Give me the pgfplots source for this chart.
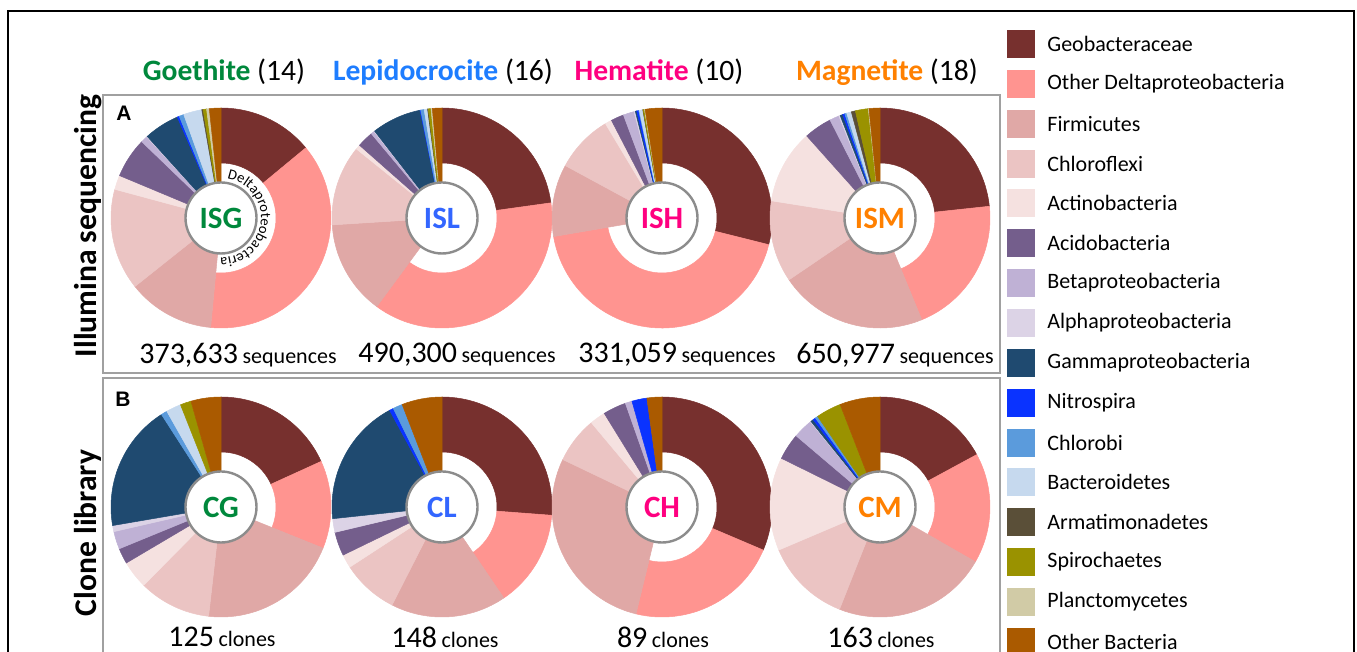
\documentclass[border=0pt]{standalone}
\usepackage{pgfplots}
\pgfplotsset{compat=1.18}
\usepackage{pgfplotstable}
\usepackage{fontspec}
\setmainfont{Carlito}
\newfontfamily\arialfont{Liberation Sans}
\usetikzlibrary{decorations.text}

\definecolor{tc0}{RGB}{119,48,46}
\definecolor{tc1}{RGB}{255,148,144}
\definecolor{tc2}{RGB}{224,168,166}
\definecolor{tc3}{RGB}{235,196,195}
\definecolor{tc4}{RGB}{245,225,224}
\definecolor{tc5}{RGB}{116,94,140}
\definecolor{tc6}{RGB}{191,177,213}
\definecolor{tc7}{RGB}{220,211,230}
\definecolor{tc8}{RGB}{31,74,112}
\definecolor{tc9}{RGB}{10,51,255}
\definecolor{tc10}{RGB}{91,155,220}
\definecolor{tc11}{RGB}{198,217,238}
\definecolor{tc12}{RGB}{90,79,56}
\definecolor{tc13}{RGB}{154,146,0}
\definecolor{tc14}{RGB}{209,203,166}
\definecolor{tc15}{RGB}{170,90,0}
\definecolor{goe}{RGB}{0,136,60}
\definecolor{lep}{RGB}{30,125,255}
\definecolor{lepl}{RGB}{51,102,255}
\definecolor{hem}{RGB}{255,0,128}
\definecolor{mag}{RGB}{255,128,0}
\definecolor{boxgray}{RGB}{160,160,160}
\definecolor{circgray}{RGB}{140,140,140}

% idx: 0 Geobacteraceae, 1 Other Delta, 2 Firmicutes, 3 Chloroflexi, 4 Actinobacteria,
% 5 Acidobacteria, 6 Beta, 7 Alpha, 8 Gamma, 9 Nitrospira, 10 Chlorobi, 11 Bacteroidetes,
% 12 Armatimonadetes, 13 Spirochaetes, 14 Planctomycetes, 15 Other Bacteria
% pct = share of the pie in percent, ri = inner radius in px
\pgfplotstableread{
idx pct ri
0 14.0 55
1 37.5 55
2 12.8 0
3 14.9 0
4 2.1 0
5 5.9 0
6 1.0 0
7 0.1 0
8 5.2 0
9 0.3 0
10 0.7 0
11 2.7 0
12 0.2 0
13 0.5 0
14 0.4 0
15 1.7 0
}\tISG
\pgfplotstableread{
idx pct ri
0 22.8 55
1 37.3 55
2 13.9 0
3 11.8 0
4 0.7 0
5 2.4 0
6 0.5 0
7 0.1 0
8 7.3 0
9 0.1 0
10 0.5 0
11 0.5 0
12 0.1 0
13 0.4 0
14 0.2 0
15 1.4 0
}\tISL
\pgfplotstableread{
idx pct ri
0 28.9 55
1 43.4 55
2 10.6 0
3 8.5 0
4 1.0 0
5 1.9 0
6 1.6 0
7 0.2 0
8 0.2 0
9 0.3 0
10 0.1 0
11 0.5 0
12 0.05 0
13 0.2 0
14 0.1 0
15 2.45 0
}\tISH
\pgfplotstableread{
idx pct ri
0 23.3 55
1 20.5 55
2 21.7 0
3 12.0 0
4 10.9 0
5 4.1 0
6 1.4 0
7 0.2 0
8 0.4 0
9 0.3 0
10 0.3 0
11 0.7 0
12 0.6 0
13 1.9 0
14 0.1 0
15 1.6 0
}\tISM
\pgfplotstableread{
idx pct ri
0 18.2 55
1 12.9 55
2 20.7 0
3 10.6 0
4 4.1 0
5 2.3 0
6 2.6 0
7 0.9 0
8 18.6 0
10 0.9 0
11 2.2 0
13 1.6 0
15 4.4 0
}\tCG
\pgfplotstableread{
idx pct ri
0 26.2 55
1 14.3 55
2 17.0 0
3 8.3 0
4 2.0 0
5 3.5 0
7 2.0 0
8 18.8 0
9 0.6 0
10 1.4 0
15 5.9 0
}\tCL
\pgfplotstableread{
idx pct ri
0 31.4 55
1 22.4 55
2 28.3 0
3 6.8 0
4 2.3 0
5 3.4 0
6 1.0 0
9 2.2 0
15 2.2 0
}\tCH
\pgfplotstableread{
idx pct ri
0 17.1 55
1 16.2 55
2 22.7 0
3 12.6 0
4 13.7 0
5 3.9 0
6 2.9 0
7 0.1 0
8 0.4 0
9 0.4 0
10 0.4 0
13 3.7 0
15 5.9 0
}\tCM

\newcommand\mkcum[1]{\pgfplotstablecreatecol[create col/expr accum={\pgfmathaccuma+\thisrow{pct}}{0}]{cum}{#1}}
\mkcum\tISG \mkcum\tISL \mkcum\tISH \mkcum\tISM
\mkcum\tCG \mkcum\tCL \mkcum\tCH \mkcum\tCM

% annular / full wedge drawn at the pie centre (1 px = 0.5pt)
\pgfdeclareplotmark{ring}{%
  \pgfmathsetmacro\aA{90-3.6*(\cum-\pct)}%
  \pgfmathsetmacro\aB{90-3.6*\cum}%
  \pgfmathsetlengthmacro\rin{max(\ri*0.5,0.05)}%
  \pgfmathtruncatemacro\ii{\idx}%
  \pgfsetfillcolor{tc\ii}\pgfsetstrokecolor{tc\ii}\pgfsetlinewidth{0.25pt}%
  \pgfpathmoveto{\pgfpointpolar{\aA}{55pt}}%
  \pgfpatharc{\aA}{\aB}{55pt}%
  \pgfpathlineto{\pgfpointpolar{\aB}{\rin}}%
  \pgfpatharc{\aB}{\aA}{\rin}%
  \pgfpathclose
  \pgfusepathqfillstroke
}

\pgfplotsset{piestyle/.style={scatter, only marks, mark=ring,
  scatter/@pre marker code/.code={\pgfscope},
  scatter/@post marker code/.code={\endpgfscope},
  visualization depends on={\thisrow{cum}\as\cum},
  visualization depends on={\thisrow{pct}\as\pct},
  visualization depends on={\thisrow{ri}\as\ri},
  visualization depends on={\thisrow{idx}\as\idx}}}

\tikzset{lab/.style={circle, draw=circgray, line width=1.2pt, fill=white,
  minimum size=35.5pt, inner sep=0pt, font=\fontsize{15.5}{16}\selectfont\bfseries},
  txt/.style={inner sep=0pt},
  leg/.style={inner sep=0pt, anchor=west, font=\fontsize{11}{12}\selectfont}}

\newcommand\seq[2]{{\fontsize{15}{16}\selectfont #1} {\fontsize{11}{12}\selectfont #2}}
\newcommand\ttl[3]{\fontsize{14.8}{16}\selectfont\textbf{\textcolor{#1}{#2}} (#3)}

\begin{document}
\begin{tikzpicture}
\begin{axis}[name=main, x=0.5pt, y=0.5pt, xmin=0, xmax=1357, ymin=0, ymax=652,
  y dir=reverse, hide axis, clip=false]

% pies
\addplot[piestyle] table[x expr=221, y expr=218] {\tISG};
\addplot[piestyle] table[x expr=442, y expr=218] {\tISL};
\addplot[piestyle] table[x expr=662, y expr=218] {\tISH};
\addplot[piestyle] table[x expr=880, y expr=218] {\tISM};
\addplot[piestyle] table[x expr=221, y expr=507] {\tCG};
\addplot[piestyle] table[x expr=442, y expr=507] {\tCL};
\addplot[piestyle] table[x expr=662, y expr=507] {\tCH};
\addplot[piestyle] table[x expr=880, y expr=507] {\tCM};

\coordinate (pISG) at (axis cs:221,218);
\coordinate (pISL) at (axis cs:442,218);
\coordinate (pISH) at (axis cs:662,218);
\coordinate (pISM) at (axis cs:880,218);
\coordinate (pCG) at (axis cs:221,507);
\coordinate (pCL) at (axis cs:442,507);
\coordinate (pCH) at (axis cs:662,507);
\coordinate (pCM) at (axis cs:880,507);

% frames
\draw[line width=1.2pt] (axis cs:8,652) -- (axis cs:8,11) -- (axis cs:1354,11) -- (axis cs:1354,652);
\draw[boxgray, line width=1.2pt] (axis cs:103,95) rectangle (axis cs:1000,373);
\draw[boxgray, line width=1.2pt] (axis cs:103,652) -- (axis cs:103,378) -- (axis cs:1000,378) -- (axis cs:1000,652);

% titles
\node[txt] at (axis cs:224,72) {\ttl{goe}{Goethite}{14}};
\node[txt] at (axis cs:443,72) {\ttl{lep}{Lepidocrocite}{16}};
\node[txt] at (axis cs:659,72) {\ttl{hem}{Hematite}{10}};
\node[txt] at (axis cs:887,72) {\ttl{mag}{Magnetite}{18}};

\node[txt, rotate=90] at (axis cs:88,226) {\fontsize{15.8}{18}\selectfont\bfseries Illumina sequencing};
\node[txt, rotate=90] at (axis cs:88,533) {\fontsize{15.8}{18}\selectfont\bfseries Clone library};
\node[txt] at (axis cs:124,113) {\arialfont\fontsize{10.5}{12}\selectfont\bfseries A};
\node[txt] at (axis cs:123,399) {\arialfont\fontsize{10.5}{12}\selectfont\bfseries B};

% counts
\node[txt] at (axis cs:238,355) {\seq{373,633}{sequences}};
\node[txt] at (axis cs:457,355) {\seq{490,300}{sequences}};
\node[txt] at (axis cs:677,355) {\seq{331,059}{sequences}};
\node[txt] at (axis cs:895,355) {\seq{650,977}{sequences}};
\node[txt] at (axis cs:222,637) {\seq{125}{clones}};
\node[txt] at (axis cs:445,637) {\seq{148}{clones}};
\node[txt] at (axis cs:663,637) {\seq{89}{clones}};
\node[txt] at (axis cs:881,637) {\seq{163}{clones}};

% legend
\fill[tc0] (axis cs:1007,30) rectangle (axis cs:1035,58); \node[leg] at (axis cs:1047,44) {Geobacteraceae};
\fill[tc1] (axis cs:1007,70) rectangle (axis cs:1035,98); \node[leg] at (axis cs:1047,84) {Other Deltaproteobacteria};
\fill[tc2] (axis cs:1007,110) rectangle (axis cs:1035,138); \node[leg] at (axis cs:1047,124) {Firmicutes};
\fill[tc3] (axis cs:1007,150) rectangle (axis cs:1035,178); \node[leg] at (axis cs:1047,164) {Chloroflexi};
\fill[tc4] (axis cs:1007,189) rectangle (axis cs:1035,217); \node[leg] at (axis cs:1047,203) {Actinobacteria};
\fill[tc5] (axis cs:1007,229) rectangle (axis cs:1035,257); \node[leg] at (axis cs:1047,243) {Acidobacteria};
\fill[tc6] (axis cs:1007,269) rectangle (axis cs:1035,297); \node[leg] at (axis cs:1047,283) {Betaproteobacteria};
\fill[tc7] (axis cs:1007,309) rectangle (axis cs:1035,337); \node[leg] at (axis cs:1047,323) {Alphaproteobacteria};
\fill[tc8] (axis cs:1007,349) rectangle (axis cs:1035,377); \node[leg] at (axis cs:1047,363) {Gammaproteobacteria};
\fill[tc9] (axis cs:1007,389) rectangle (axis cs:1035,417); \node[leg] at (axis cs:1047,403) {Nitrospira};
\fill[tc10] (axis cs:1007,429) rectangle (axis cs:1035,457); \node[leg] at (axis cs:1047,443) {Chlorobi};
\fill[tc11] (axis cs:1007,468) rectangle (axis cs:1035,496); \node[leg] at (axis cs:1047,482) {Bacteroidetes};
\fill[tc12] (axis cs:1007,508) rectangle (axis cs:1035,536); \node[leg] at (axis cs:1047,522) {Armatimonadetes};
\fill[tc13] (axis cs:1007,548) rectangle (axis cs:1035,576); \node[leg] at (axis cs:1047,562) {Spirochaetes};
\fill[tc14] (axis cs:1007,588) rectangle (axis cs:1035,616); \node[leg] at (axis cs:1047,602) {Planctomycetes};
\fill[tc15] (axis cs:1007,628) rectangle (axis cs:1035,652); \node[leg] at (axis cs:1047,642) {Other Bacteria};
\end{axis}

% centre labels on top of the wedges
\node[lab] at (pISG) {\textcolor{goe}{ISG}};
\node[lab] at (pISL) {\textcolor{lepl}{ISL}};
\node[lab] at (pISH) {\textcolor{hem}{ISH}};
\node[lab] at (pISM) {\textcolor{mag}{ISM}};
\node[lab] at (pCG) {\textcolor{goe}{CG}};
\node[lab] at (pCL) {\textcolor{lepl}{CL}};
\node[lab] at (pCH) {\textcolor{hem}{CH}};
\node[lab] at (pCM) {\textcolor{mag}{CM}};

\path[decorate, decoration={text along path, text align=center,
  text={|\fontsize{7.3}{8}\selectfont|Deltaproteobacteria}}]
  (pISG) ++(100:20pt) arc[start angle=100, end angle=-110, radius=20pt];

\pgfresetboundingbox
\useasboundingbox (main.south west) rectangle (main.north east);
\end{tikzpicture}
\end{document}
